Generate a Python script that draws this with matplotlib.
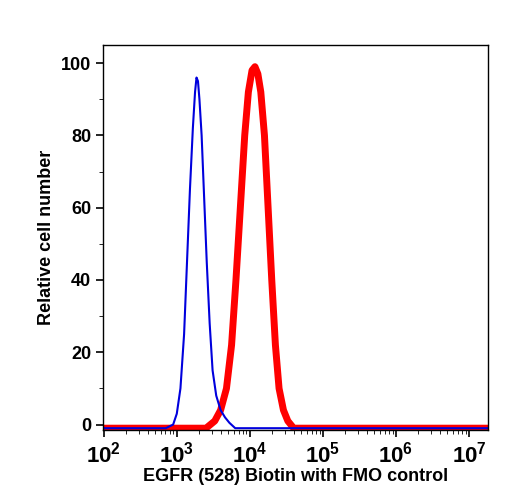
import numpy as np
import matplotlib.pyplot as plt
from matplotlib.ticker import MultipleLocator

plt.rcParams['font.family'] = ['Liberation Sans', 'DejaVu Sans']
plt.rcParams['mathtext.fontset'] = 'custom'
plt.rcParams['mathtext.bf'] = 'Liberation Sans:bold'
plt.rcParams['mathtext.rm'] = 'Liberation Sans'

# FMO control (blue), log10 intensity vs relative cell number
fmo_logx = [1.9, 2.85, 2.95, 3.0, 3.05, 3.1, 3.14, 3.18, 3.22, 3.25, 3.27, 3.29, 3.31,
            3.34, 3.37, 3.41, 3.45, 3.49, 3.54, 3.6, 3.66, 3.72, 3.8, 7.3]
fmo_y = [-1, -1, 0, 3, 10, 25, 45, 65, 82, 92, 96, 95, 90, 80, 65, 45, 28, 15, 8, 4, 2, 0.5, -1, -1]

# EGFR (528) Biotin (red)
egfr_logx = [1.9, 3.4, 3.52, 3.6, 3.68, 3.75, 3.81, 3.87, 3.93, 3.98, 4.03, 4.07, 4.11,
             4.15, 4.2, 4.25, 4.3, 4.35, 4.4, 4.46, 4.52, 4.6, 7.3]
egfr_y = [-1, -1, 1, 4, 10, 22, 40, 60, 80, 92, 98, 99, 97, 92, 80, 60, 40, 22, 10, 4, 1, -1, -1]

fig = plt.figure(figsize=(5.08, 5.0), dpi=100)
ax = fig.add_axes([103 / 508, 70 / 500, 385 / 508, 385 / 500])

ax.plot(10 ** np.array(egfr_logx), egfr_y, color='#ff0000', lw=5)
ax.plot(10 ** np.array(fmo_logx), fmo_y, color='#0000dd', lw=1.5)

ax.set_xscale('log')
ax.set_xlim(10 ** 1.99, 10 ** 7.26)
ax.set_ylim(-1.5, 105)
ax.yaxis.set_major_locator(MultipleLocator(20))
ax.yaxis.set_minor_locator(MultipleLocator(10))
ax.tick_params(which='both', direction='out', top=False, right=False)
ax.tick_params(which='major', length=5, width=1.2, labelsize=13)
ax.tick_params(which='minor', length=3)
ax.set_xticks([10 ** k for k in range(2, 8)])
ax.set_xticklabels([f'$\\mathbf{{10^{k}}}$' for k in range(2, 8)], fontsize=16)
for lbl in ax.get_yticklabels():
    lbl.set_fontweight('bold')
for s in ax.spines.values():
    s.set_linewidth(1.0)

ax.set_xlabel('EGFR (528) Biotin with FMO control', fontsize=13, fontweight='bold', labelpad=0)
ax.set_ylabel('Relative cell number', fontsize=13, fontweight='bold')

fig.savefig('out.png', dpi=100)
